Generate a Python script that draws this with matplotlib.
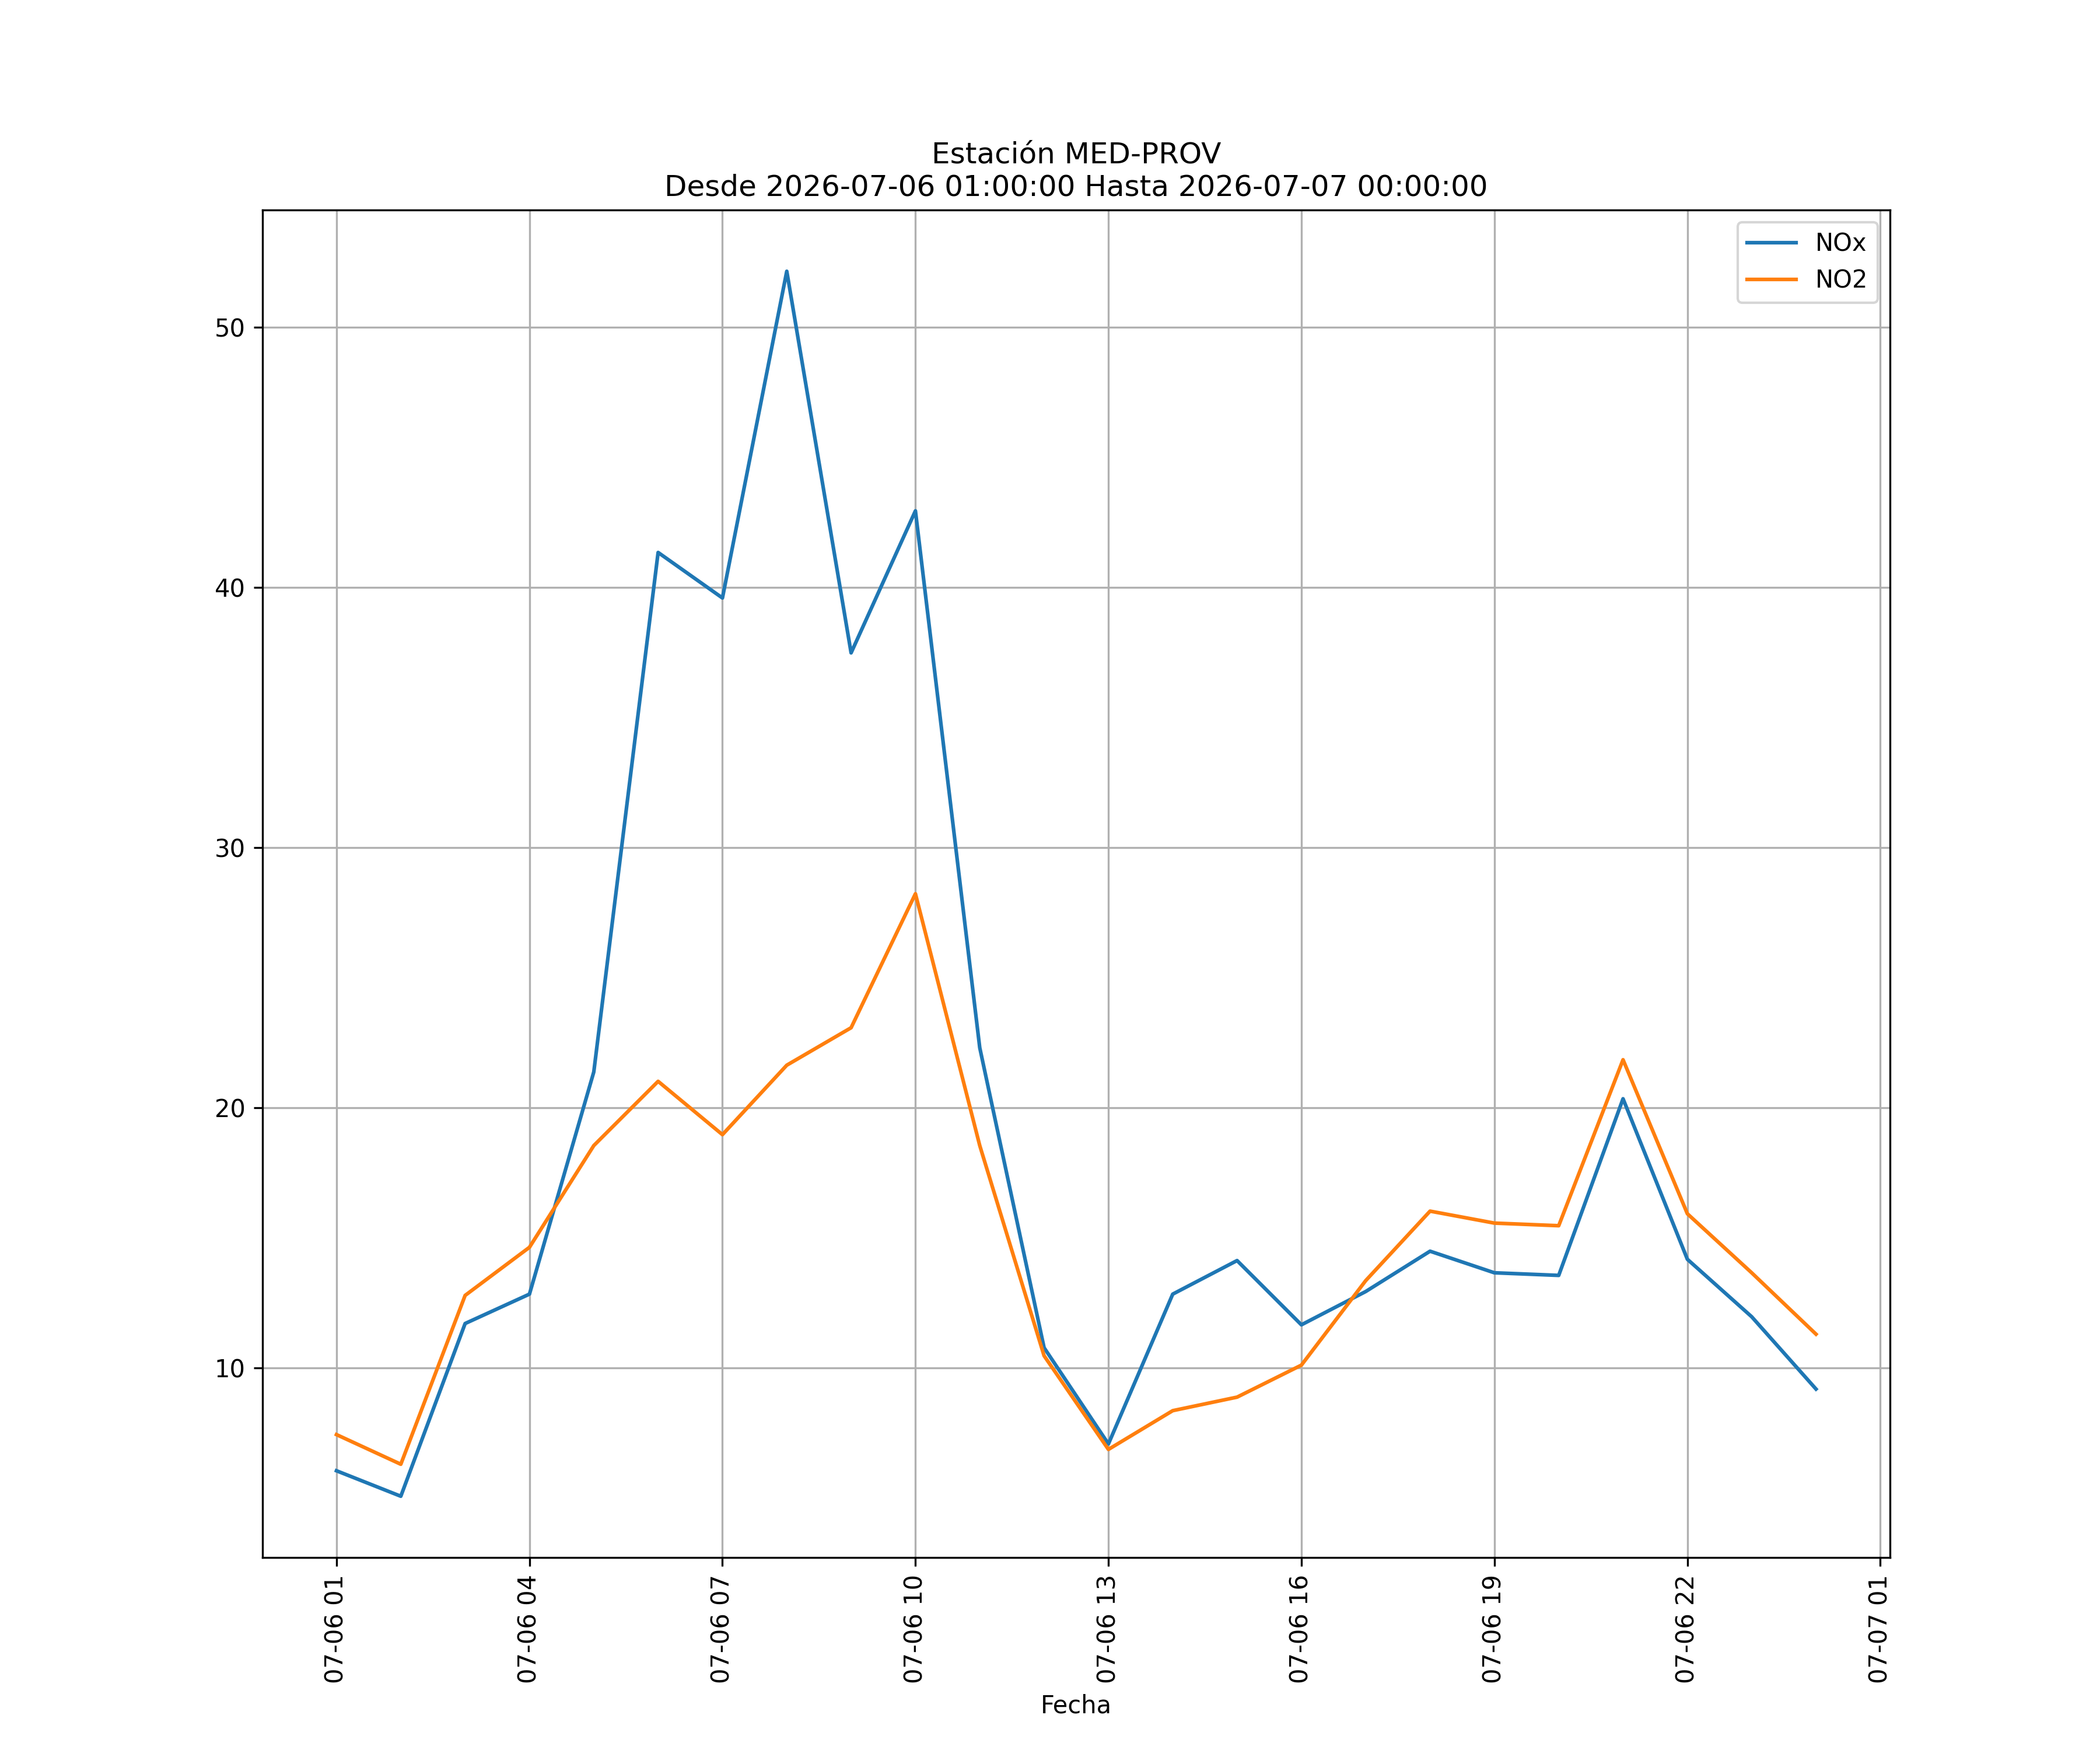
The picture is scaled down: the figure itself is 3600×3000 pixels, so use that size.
import pandas as pd
import matplotlib
matplotlib.use("Agg")
import matplotlib.pyplot as plt
import matplotlib.dates as mdates

fechas = pd.date_range("2026-07-06 01:00:00", "2026-07-07 00:00:00", freq="h")

nox = [6.04, 5.06, 11.70, 12.83, 21.37, 41.34, 39.59, 52.15, 37.48, 42.94,
       22.30, 10.77, 7.07, 12.83, 14.12, 11.65, 12.93, 14.48, 13.65, 13.55,
       20.34, 14.17, 11.96, 9.18]
no2 = [7.43, 6.29, 12.78, 14.63, 18.54, 21.01, 18.96, 21.63, 23.07, 28.22,
       18.54, 10.46, 6.86, 8.35, 8.87, 10.10, 13.35, 16.02, 15.56, 15.46,
       21.84, 15.92, 13.65, 11.29]

fig, ax = plt.subplots(figsize=(12, 10))

ax.plot(fechas, nox, label="NOx")
ax.plot(fechas, no2, label="NO2")

ax.xaxis.set_major_locator(mdates.HourLocator(byhour=range(1, 24, 3)))
ax.xaxis.set_major_formatter(mdates.DateFormatter("%m-%d %H"))
plt.setp(ax.get_xticklabels(), rotation=90)

ax.set_xlabel("Fecha")
ax.set_title("Estación MED-PROV\nDesde 2026-07-06 01:00:00 Hasta 2026-07-07 00:00:00")
ax.grid(True)
ax.legend()

fig.savefig("out.png", dpi=300)
